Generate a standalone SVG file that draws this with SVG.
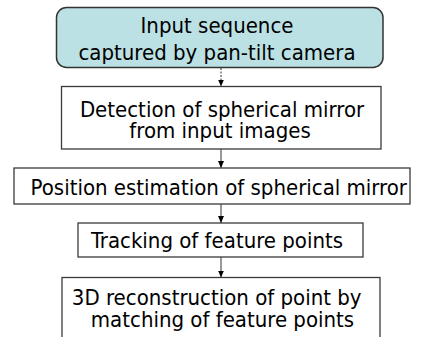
<svg xmlns="http://www.w3.org/2000/svg" width="423" height="337" viewBox="0 0 423 337">
<style>
.box{fill:#ffffff;stroke:#3a3a3a;stroke-width:1.3}
.start{fill:#bce1e4;stroke:#333333;stroke-width:1.5}
.t{font-family:"DejaVu Sans Condensed","DejaVu Sans",Verdana,sans-serif;font-stretch:condensed;font-size:22px;fill:#000000;text-anchor:middle}
.c{stroke:#333333;stroke-width:1;fill:none}
</style>
<defs>
<marker id="ah" markerWidth="7" markerHeight="6" refX="7" refY="3" orient="auto" markerUnits="userSpaceOnUse">
<path d="M0,0 L7,3 L0,6 Z" fill="#000000"/>
</marker>
</defs>
<rect width="423" height="337" fill="#ffffff"/>
<g id="connectors">
<line class="c" x1="221" y1="68" x2="221" y2="86.5" stroke-dasharray="2,1.5" marker-end="url(#ah)"/>
<line class="c" x1="221" y1="149" x2="221" y2="168" marker-end="url(#ah)"/>
<line class="c" x1="221" y1="204" x2="221" y2="223" marker-end="url(#ah)"/>
<line class="c" x1="221" y1="257" x2="221" y2="277.5" marker-end="url(#ah)"/>
</g>
<g id="n1">
<rect class="start" x="56.5" y="7.5" width="326.5" height="60" rx="10"/>
<text class="t" x="217" y="33.3">Input sequence</text>
<text class="t" x="217" y="60">captured by pan-tilt camera</text>
</g>
<g id="n2">
<rect class="box" x="61.5" y="86.5" width="319.5" height="62.5"/>
<text class="t" x="222" y="116.7">Detection of spherical mirror</text>
<text class="t" x="220" y="138.3">from input images</text>
</g>
<g id="n3">
<rect class="box" x="14" y="168" width="396" height="36"/>
<text class="t" x="218.8" y="195">Position estimation of spherical mirror</text>
</g>
<g id="n4">
<rect class="box" x="78" y="223" width="285" height="34"/>
<text class="t" x="217" y="248.3">Tracking of feature points</text>
</g>
<g id="n5">
<rect class="box" x="62" y="277.5" width="318" height="70"/>
<text class="t" x="216.7" y="305">3D reconstruction of point by</text>
<text class="t" x="222.5" y="326.7">matching of feature points</text>
</g>
</svg>
